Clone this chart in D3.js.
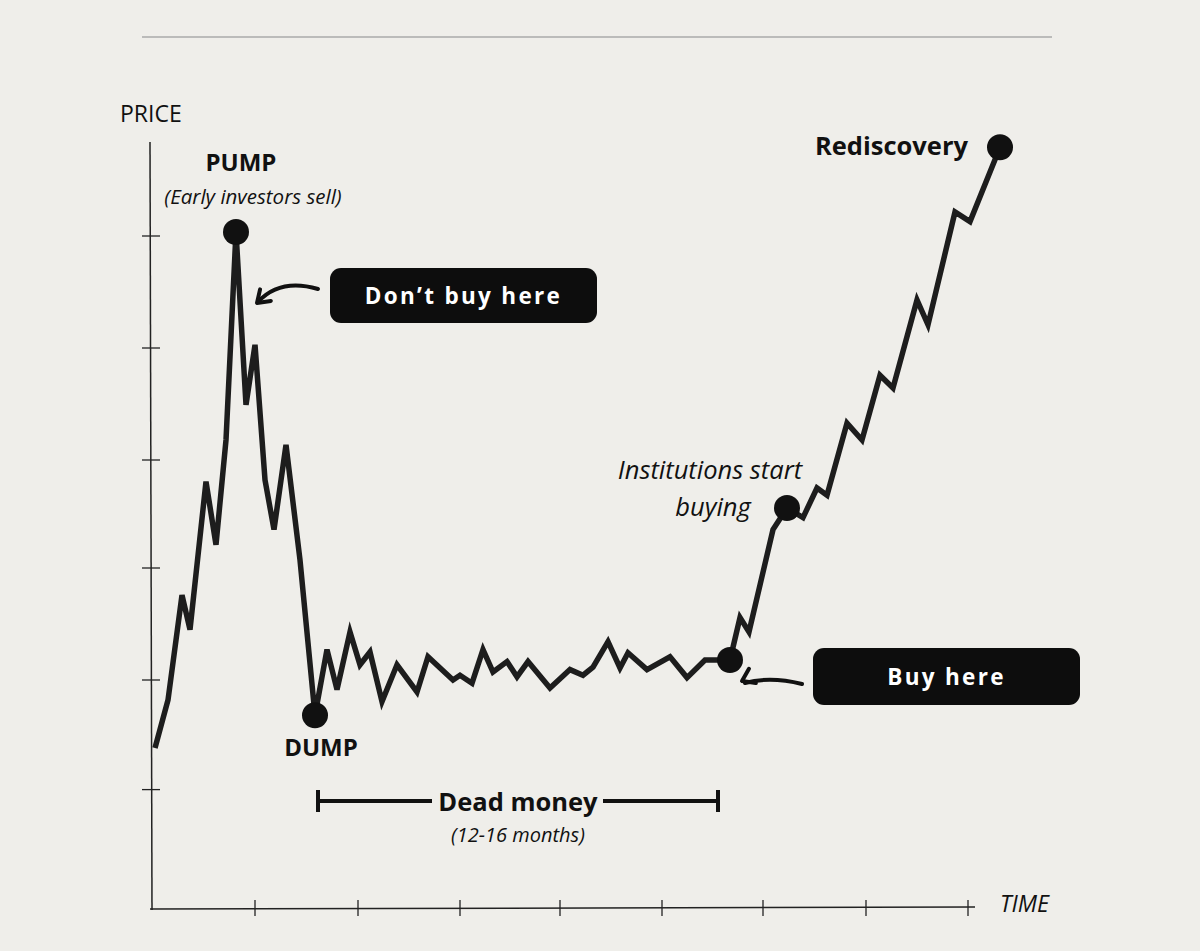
<!DOCTYPE html>
<html>
<head>
<meta charset="utf-8">
<script src="https://cdn.jsdelivr.net/npm/d3@7"></script>
<style>
  body { margin: 0; background: #efeeea; }
  text { font-family: "Open Sans", sans-serif; fill: #111; }
</style>
</head>
<body>
<svg id="chart" width="1200" height="951"></svg>
<script>
// price path (time, price)
var times = [0.5,1.8,3.2,4.0,5.6,6.6,7.6,8.6,9.6,10.5,11.5,12.4,13.6,15.0,16.5,
  17.7,18.7,20.0,21.0,22.0,23.2,24.7,26.7,27.8,30.3,31.0,32.2,33.3,34.3,35.7,36.7,37.8,
  40.0,42.0,43.3,44.3,45.8,47.0,47.8,49.7,52.0,53.7,55.5,58.0,
  59.0,59.9,62.3,63.7,65.3,66.7,67.7,69.7,71.2,73.0,74.3,76.7,77.8,80.5,82.0,85.0];
var prices = [20,26,39.1,34.8,53.3,45.4,58.5,84.5,62.9,70.4,53.5,47.3,57.9,43.5,24.1,
  32.3,27.3,34.5,30.4,32.0,25.8,30.4,27.0,31.4,28.5,29.1,28.1,32.3,29.5,30.8,28.9,30.8,
  27.5,29.8,29.1,30.1,33.3,30.0,31.9,29.8,31.4,28.8,31.0,31.0,
  36.3,34.5,47.3,50.0,48.8,52.5,51.6,60.6,58.5,66.6,65.0,76.0,72.9,87.0,85.8,95.1];
var markerIdx = [7, 14, 43, 47, 59]; // pump, dump, buy, institutions, rediscovery
var yTicks = [84, 70, 56, 42.5, 28.5, 14.8];
var xTicks = [10.5, 20.8, 31, 41, 51.2, 61.3, 71.6, 81.8];

var svg = d3.select("#chart");
var x = d3.scaleLinear().domain([0, 82]).range([150, 970]);
var y = d3.scaleLinear().domain([0, 100]).range([908, 108]);

// top rule
svg.append("line").attr("x1", 142).attr("x2", 1052).attr("y1", 37).attr("y2", 37)
  .attr("stroke", "#aaa").attr("stroke-width", 1.5);

// axes
svg.append("line").attr("x1", 150).attr("x2", 152).attr("y1", 142).attr("y2", 910)
  .attr("stroke", "#222").attr("stroke-width", 1.5);
svg.append("line").attr("x1", 150).attr("x2", 975).attr("y1", 909).attr("y2", 907)
  .attr("stroke", "#222").attr("stroke-width", 1.5);
svg.selectAll(".yt").data(yTicks).enter().append("line")
  .attr("x1", 142).attr("x2", 160).attr("y1", d => y(d)).attr("y2", d => y(d))
  .attr("stroke", "#222").attr("stroke-width", 1.3);
svg.selectAll(".xt").data(xTicks).enter().append("line")
  .attr("x1", d => x(d)).attr("x2", d => x(d)).attr("y1", 900).attr("y2", 916)
  .attr("stroke", "#222").attr("stroke-width", 1.3);
svg.append("text").attr("x", 120).attr("y", 122).attr("font-size", 23).text("PRICE");
svg.append("text").attr("x", 1000).attr("y", 912).attr("font-size", 23)
  .attr("font-style", "italic").text("TIME");

// price line
var pts = times.map((t, i) => [t, prices[i]]);
var line = d3.line().x(d => x(d[0])).y(d => y(d[1]));
svg.append("path").datum(pts).attr("d", line).attr("fill", "none")
  .attr("stroke", "#1d1d1d").attr("stroke-width", 5.5).attr("stroke-linejoin", "miter");

svg.selectAll(".m").data(markerIdx).enter().append("circle")
  .attr("cx", i => x(times[i])).attr("cy", i => y(prices[i])).attr("r", 13).attr("fill", "#111");

// labels
svg.append("text").attr("x", 241).attr("y", 171).attr("text-anchor", "middle")
  .attr("font-size", 24).attr("font-weight", "bold").text("PUMP");
svg.append("text").attr("x", 253).attr("y", 204).attr("text-anchor", "middle")
  .attr("font-size", 20.5).attr("font-style", "italic").text("(Early investors sell)");
svg.append("text").attr("x", 321).attr("y", 756).attr("text-anchor", "middle")
  .attr("font-size", 24).attr("font-weight", "bold").text("DUMP");
svg.append("text").attr("x", 710).attr("y", 479).attr("text-anchor", "middle")
  .attr("font-size", 25.5).attr("font-style", "italic").text("Institutions start");
svg.append("text").attr("x", 713).attr("y", 516).attr("text-anchor", "middle")
  .attr("font-size", 25.5).attr("font-style", "italic").text("buying");
svg.append("text").attr("x", 968).attr("y", 155).attr("text-anchor", "end")
  .attr("font-size", 25.5).attr("font-weight", "bold").text("Rediscovery");

// boxes
function box(x0, y0, w, h, label) {
  svg.append("rect").attr("x", x0).attr("y", y0).attr("width", w).attr("height", h)
    .attr("rx", 11).attr("fill", "#0d0d0d");
  svg.append("text").attr("x", x0 + w / 2).attr("y", y0 + h / 2 + 8).attr("text-anchor", "middle")
    .attr("font-size", 22.5).attr("font-weight", "bold").attr("letter-spacing", 2.3)
    .style("fill", "#fff").text(label);
}
box(330, 268, 267, 55, "Don\u2019t buy here");
box(813, 648, 267, 57, "Buy here");

// arrows
function arrow(d, tip, a) {
  svg.append("path").attr("d", d).attr("fill", "none").attr("stroke", "#111")
    .attr("stroke-width", 4).attr("stroke-linecap", "round");
  var head = d3.path();
  head.moveTo(tip[0] + 14 * Math.cos(a - 0.6), tip[1] + 14 * Math.sin(a - 0.6));
  head.lineTo(tip[0], tip[1]);
  head.lineTo(tip[0] + 14 * Math.cos(a + 0.6), tip[1] + 14 * Math.sin(a + 0.6));
  svg.append("path").attr("d", head.toString()).attr("fill", "none").attr("stroke", "#111")
    .attr("stroke-width", 4).attr("stroke-linecap", "round").attr("stroke-linejoin", "round");
}
arrow("M318,289 Q280,278 258,302", [257, 303], -0.75);
arrow("M802,684 Q770,676 745,683", [742, 681], -0.45);

// dead money bracket
svg.append("line").attr("x1", 318).attr("x2", 432).attr("y1", 801).attr("y2", 801)
  .attr("stroke", "#111").attr("stroke-width", 4);
svg.append("line").attr("x1", 603).attr("x2", 718).attr("y1", 801).attr("y2", 801)
  .attr("stroke", "#111").attr("stroke-width", 4);
[318, 718].forEach(function(v) {
  svg.append("line").attr("x1", v).attr("x2", v).attr("y1", 790).attr("y2", 812)
    .attr("stroke", "#111").attr("stroke-width", 4);
});
svg.append("text").attr("x", 518).attr("y", 811).attr("text-anchor", "middle")
  .attr("font-size", 25.5).attr("font-weight", "bold").text("Dead money");
svg.append("text").attr("x", 518).attr("y", 842).attr("text-anchor", "middle")
  .attr("font-size", 20).attr("font-style", "italic").text("(12-16 months)");
</script>
</body>
</html>
